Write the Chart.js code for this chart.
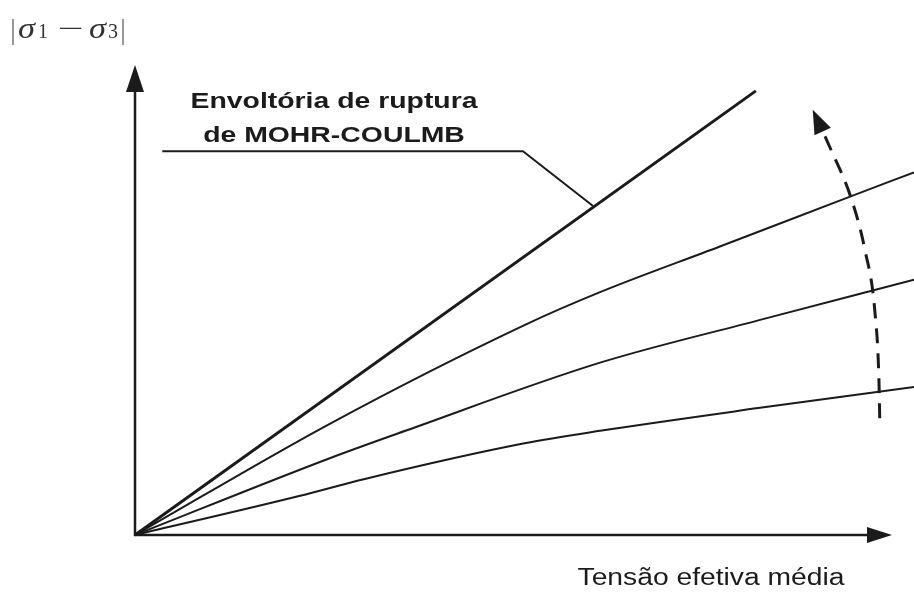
<!DOCTYPE html>
<html>
<head>
<meta charset="utf-8">
<script src="https://cdn.jsdelivr.net/npm/chart.js@4.4.0/dist/chart.umd.min.js"></script>
<style>
html, body { margin: 0; padding: 0; background: #fff; }
</style>
</head>
<body>
<canvas id="mohr-graph" width="914" height="601"></canvas>
<script>
// x = tensão efetiva média, y = |σ1 − σ3| (unidades arbitrárias)
var envelopeX = [0, 7.97];
var envelopeY = [0, 5.67];

var curve1X = [0, 2.5, 5.0, 5.97, 7.5, 9.18, 10];
var curve1Y = [0, 1.42, 2.68, 3.10, 3.68, 4.32, 4.63];

var curve2X = [0, 2.5, 3.47, 5.97, 8.0, 10];
var curve2Y = [0, 0.98, 1.33, 2.20, 2.74, 3.26];

var curve3X = [0, 2.12, 2.95, 5.0, 5.97, 8.0, 10];
var curve3Y = [0, 0.50, 0.715, 1.17, 1.33, 1.62, 1.89];

// seta tracejada (sentido de aumento)
var arrowX = [9.56, 9.55, 9.50, 9.37, 9.20, 8.92, 8.70];
var arrowY = [1.49, 1.98, 2.83, 3.64, 4.28, 4.95, 5.43];

// linha de chamada do rótulo
var leaderX = [0.35, 4.98, 5.88];
var leaderY = [4.90, 4.90, 4.20];

var titleLines = ['Envoltória de ruptura', 'de MOHR-COULMB'];
var xTitle = 'Tensão efetiva média';

var ink = '#1b1b1b';

function toPoints(xs, ys) {
    return xs.map(function(x, i) { return { x: x, y: ys[i] }; });
}

function lineSet(xs, ys, width, extra) {
    var ds = {
        data: toPoints(xs, ys),
        borderColor: ink,
        borderWidth: width,
        pointRadius: 0,
        fill: false,
        clip: false,
        tension: 0,
        cubicInterpolationMode: 'monotone'
    };
    return Object.assign(ds, extra || {});
}

function arrowHead(ctx, tipX, tipY, fromX, fromY, len, half) {
    var dx = tipX - fromX, dy = tipY - fromY;
    var d = Math.sqrt(dx * dx + dy * dy);
    var ux = dx / d, uy = dy / d;
    var bx = tipX - ux * len, by = tipY - uy * len;
    ctx.beginPath();
    ctx.moveTo(tipX, tipY);
    ctx.lineTo(bx - uy * half, by + ux * half);
    ctx.lineTo(bx + uy * half, by - ux * half);
    ctx.closePath();
    ctx.fill();
}

// desenha texto ajustado a uma largura dada (a figura original está esticada)
function fitText(ctx, text, left, baseline, width) {
    var w = ctx.measureText(text).width;
    ctx.save();
    ctx.translate(left, baseline);
    ctx.scale(width / w, 1);
    ctx.textAlign = 'left';
    ctx.textBaseline = 'alphabetic';
    ctx.fillText(text, 0, 0);
    ctx.restore();
}

function stretchedText(ctx, text, cx, baseline, sx) {
    ctx.save();
    ctx.translate(cx, baseline);
    ctx.scale(sx, 1);
    ctx.textAlign = 'center';
    ctx.textBaseline = 'alphabetic';
    ctx.fillText(text, 0, 0);
    ctx.restore();
}

var decorPlugin = {
    id: 'decor',
    beforeDatasetsDraw: function(chart) {
        var ctx = chart.ctx;
        var xs = chart.scales.x, ys = chart.scales.y;
        var ox = xs.getPixelForValue(0), oy = ys.getPixelForValue(0);
        var top = chart.chartArea.top;
        var right = chart.chartArea.right - 22;
        ctx.save();
        ctx.strokeStyle = ink;
        ctx.fillStyle = ink;
        ctx.lineWidth = 2.5;
        ctx.beginPath();
        ctx.moveTo(ox, top + 10);
        ctx.lineTo(ox, oy);
        ctx.lineTo(right - 10, oy);
        ctx.stroke();
        arrowHead(ctx, ox, top, ox, oy, 27, 9);
        arrowHead(ctx, right, oy, ox, oy, 25, 8);
        ctx.restore();
    },
    afterDatasetsDraw: function(chart) {
        var ctx = chart.ctx;
        ctx.save();
        ctx.fillStyle = ink;

        // ponta da seta tracejada
        var pts = chart.getDatasetMeta(5).data;
        var a = pts[pts.length - 1], b = pts[pts.length - 2];
        arrowHead(ctx, a.x, a.y, b.x, b.y, 24, 9);

        // rótulo da envoltória
        ctx.font = 'bold 22px "Liberation Sans", Arial, sans-serif';
        var w = ctx.measureText(titleLines[0]).width;
        var sx = 287 / w;
        stretchedText(ctx, titleLines[0], 334, 108, sx);
        stretchedText(ctx, titleLines[1], 334, 142, sx);

        // título do eixo x
        ctx.font = '23px "Liberation Sans", Arial, sans-serif';
        var wx = ctx.measureText(xTitle).width;
        stretchedText(ctx, xTitle, 711, 585, 267 / wx);

        // título do eixo y: |σ1 − σ3|
        ctx.fillStyle = '#333';
        var base = 38;
        ctx.font = '30px "Liberation Serif", serif';
        fitText(ctx, '|', 11, base + 1, 4);
        fitText(ctx, '|', 121, base + 1, 4);
        ctx.font = 'italic 29px "Liberation Serif", serif';
        fitText(ctx, 'σ', 18, base, 17);
        fitText(ctx, 'σ', 89, base, 17);
        ctx.font = '22px "Liberation Serif", serif';
        fitText(ctx, '1', 38, base, 10);
        fitText(ctx, '3', 108, base, 10);
        ctx.font = '26px "Liberation Serif", serif';
        fitText(ctx, '−', 58, base - 1, 26);
        ctx.restore();
    }
};

var ctxMohr = document.getElementById('mohr-graph').getContext('2d');
var mohrChart = new Chart(ctxMohr, {
    type: 'line',
    data: {
        datasets: [
            lineSet(envelopeX, envelopeY, 3),
            lineSet(curve1X, curve1Y, 2),
            lineSet(curve2X, curve2Y, 2),
            lineSet(curve3X, curve3Y, 2),
            lineSet(leaderX, leaderY, 2, { cubicInterpolationMode: 'default' }),
            lineSet(arrowX, arrowY, 3, { borderDash: [15, 10] })
        ]
    },
    options: {
        responsive: false,
        animation: false,
        layout: { padding: { left: 135, right: 0, top: 65, bottom: 66 } },
        scales: {
            x: { type: 'linear', min: 0, max: 10, display: false },
            y: { type: 'linear', min: 0, max: 6, display: false }
        },
        plugins: {
            legend: { display: false },
            tooltip: { enabled: false }
        }
    },
    plugins: [decorPlugin]
});
</script>
</body>
</html>
